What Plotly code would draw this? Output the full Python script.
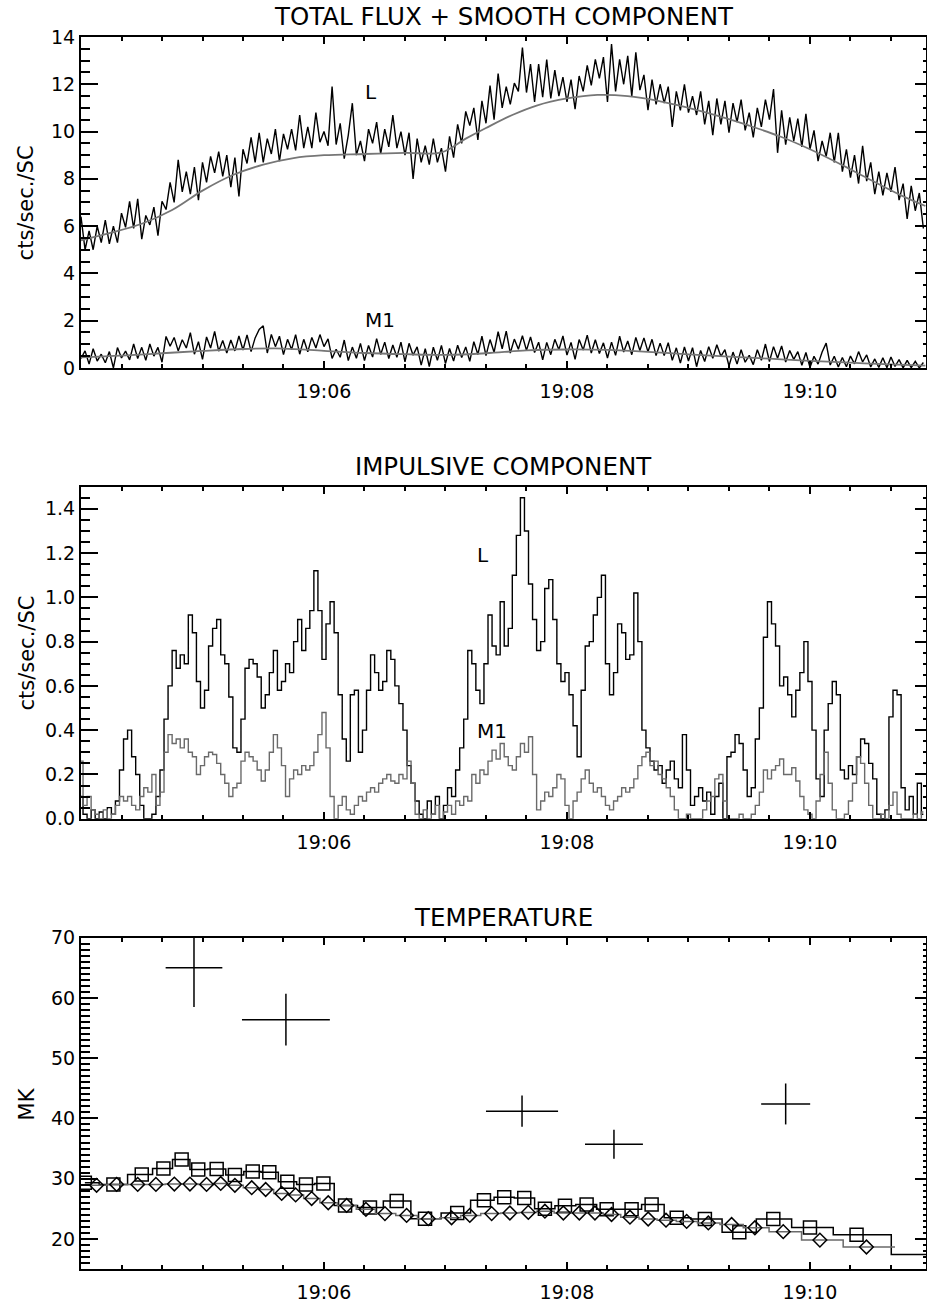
import plotly.graph_objects as go

# ---------------- data (time in seconds after 19:04:00) ----------------
T_START = 0.0
T_STEP = 2.0
X_RANGE = [0.0, 417.3]
tick_vals = [120, 240, 360]
tick_text = ["19:06", "19:08", "19:10"]

# total flux, L channel (2 s bins)
flux_L = [6.4, 5.0, 5.8, 5.0, 6.0, 5.3, 6.25, 5.25, 6.0, 5.3,
          6.55, 5.95, 7.05, 5.9, 7.15, 5.45, 6.45, 6.05, 6.8, 5.6,
          7.05, 6.7, 7.85, 7.0, 8.8, 7.45, 8.3, 7.35, 8.5, 7.1,
          8.7, 7.85, 8.95, 8.25, 9.15, 8.1, 9.0, 7.65, 8.9, 7.25,
          9.25, 8.65, 9.75, 8.7, 9.95, 8.7, 9.7, 9.05, 10.1, 8.75,
          9.9, 9.25, 10.1, 9.2, 10.7, 9.3, 10.2, 9.3, 10.8, 9.55,
          10.0, 9.4, 11.9, 9.45, 10.35, 8.85, 9.85, 11.2, 9.0, 9.6,
          8.75, 10.1, 9.5, 10.4, 9.05, 10.1, 9.35, 10.7, 9.3, 10.0,
          9.0, 9.95, 8.0, 9.7, 8.7, 9.4, 8.6, 9.7, 8.7, 9.3,
          8.3, 9.8, 8.9, 10.3, 9.5, 10.85, 10.25, 11.0, 9.65, 11.3,
          10.35, 11.95, 10.5, 12.45, 11.0, 11.9, 11.15, 12.05, 11.7, 13.55,
          11.65, 12.85, 11.25, 12.85, 11.45, 13.05, 11.4, 12.6, 11.5, 12.3,
          11.25, 12.2, 10.95, 12.35, 11.7, 12.8, 11.95, 13.05, 12.25, 13.15,
          11.25, 13.7, 11.7, 13.05, 12.0, 13.2, 11.5, 13.35, 11.75, 12.4,
          10.9, 12.2, 11.15, 12.0, 11.2, 11.9, 10.2, 11.7, 10.9, 12.0,
          10.8, 11.5, 10.7, 11.7, 10.3, 11.3, 9.85, 11.4, 10.3, 11.3,
          9.95, 11.2, 10.4, 11.35, 10.05, 10.8, 9.75, 11.0, 10.2, 11.35,
          10.5, 11.8, 9.1, 10.9, 9.45, 10.6, 9.6, 10.55, 9.35, 10.75,
          9.25, 10.05, 8.75, 9.6, 8.95, 9.95, 8.7, 9.95, 8.3, 9.25,
          8.05, 9.0, 7.8, 9.4, 7.9, 8.7, 7.35, 8.3, 7.3, 8.25,
          7.45, 8.5, 7.1, 7.8, 6.3, 7.7, 6.65, 7.4, 5.9]

# total flux, M1 channel (2 s bins)
flux_M1 = [0.40, 0.72, 0.16, 0.81, 0.29, 0.58, 0.22, 0.69, 0.00, 0.86,
           0.42, 0.71, 0.34, 1.01, 0.40, 0.87, 0.32, 1.01, 0.50, 0.87,
           0.24, 1.33, 0.92, 1.29, 0.72, 1.19, 0.84, 1.49, 0.58, 1.11,
           0.36, 1.31, 0.84, 1.54, 0.71, 1.16, 0.63, 1.18, 0.72, 1.35,
           0.76, 1.40, 0.69, 1.27, 1.63, 1.78, 0.63, 1.42, 0.90, 1.34,
           0.56, 1.21, 0.78, 1.41, 0.58, 1.21, 0.68, 1.29, 0.84, 1.41,
           0.90, 1.23, 0.40, 0.79, 0.45, 1.18, 0.31, 0.88, 0.41, 1.04,
           0.31, 0.95, 0.46, 1.24, 0.57, 1.09, 0.40, 0.97, 0.45, 1.09,
           0.26, 1.04, 0.54, 0.89, 0.12, 0.81, 0.06, 0.88, 0.32, 0.95,
           0.18, 0.82, 0.29, 0.96, 0.44, 0.89, 0.28, 1.11, 0.57, 1.34,
           0.52, 1.20, 0.66, 1.53, 0.81, 1.56, 0.63, 1.22, 0.79, 1.36,
           0.74, 1.31, 0.65, 1.09, 0.34, 1.08, 0.56, 1.21, 0.77, 1.35,
           0.54, 1.08, 0.36, 1.20, 0.76, 1.39, 0.63, 1.19, 0.61, 1.06,
           0.42, 1.09, 0.53, 1.34, 0.67, 1.14, 0.56, 1.29, 0.74, 1.27,
           0.68, 1.21, 0.52, 1.05, 0.52, 1.07, 0.32, 0.85, 0.20, 0.89,
           0.29, 0.86, 0.05, 0.74, 0.27, 0.90, 0.41, 0.98, 0.49, 0.77,
           0.08, 0.67, 0.16, 0.77, 0.24, 0.53, 0.14, 0.77, 0.32, 1.01,
           0.27, 0.90, 0.41, 0.93, 0.25, 0.74, 0.36, 0.69, 0.11, 0.65,
           0.02, 0.49, 0.16, 0.67, 1.05, 0.12, 0.49, 0.04, 0.44, 0.05,
           0.50, 0.17, 0.69, 0.25, 0.55, 0.04, 0.38, 0.02, 0.43, 0.01,
           0.46, 0.06, 0.35, 0.00, 0.32, 0.01, 0.28, 0.00, 0.23]

# smooth components
smooth_L_t = [0, 15, 30, 45, 60, 75, 90, 105, 120, 140, 160, 178, 190, 200, 213,
              225, 240, 255, 270, 285, 300, 315, 330, 345, 360, 375, 390, 405, 417]
smooth_L = [5.40, 5.72, 6.10, 6.68, 7.50, 8.16, 8.60, 8.88, 9.00, 9.05, 9.10, 9.12, 9.70, 10.15, 10.70,
            11.10, 11.40, 11.55, 11.50, 11.30, 11.00, 10.65, 10.25, 9.80, 9.25, 8.62, 7.95, 7.30, 6.85]
smooth_M1_t = [0, 20, 40, 60, 80, 100, 120, 140, 160, 180, 200, 220, 240, 260, 280,
               300, 320, 340, 360, 380, 400, 417]
smooth_M1 = [0.45, 0.52, 0.62, 0.72, 0.80, 0.82, 0.72, 0.63, 0.58, 0.55, 0.62, 0.74, 0.78, 0.76, 0.68,
             0.57, 0.48, 0.39, 0.30, 0.22, 0.15, 0.10]

# impulsive components (2 s bins)
imp_L = [0.10, 0.02, 0.00, 0.04, 0.00, 0.03, 0.00, 0.05, 0.02, 0.08,
         0.22, 0.36, 0.40, 0.28, 0.20, 0.06, 0.00, 0.00, 0.02, 0.10,
         0.22, 0.45, 0.60, 0.76, 0.68, 0.74, 0.70, 0.92, 0.84, 0.62,
         0.50, 0.58, 0.78, 0.86, 0.90, 0.74, 0.70, 0.55, 0.32, 0.30,
         0.45, 0.68, 0.72, 0.70, 0.64, 0.50, 0.56, 0.66, 0.76, 0.58,
         0.62, 0.70, 0.66, 0.80, 0.90, 0.76, 0.86, 0.94, 1.12, 0.94,
         0.72, 0.88, 0.98, 0.84, 0.56, 0.36, 0.26, 0.56, 0.58, 0.30,
         0.40, 0.58, 0.74, 0.66, 0.58, 0.62, 0.76, 0.72, 0.60, 0.52,
         0.40, 0.24, 0.16, 0.08, 0.02, 0.00, 0.08, 0.02, 0.10, 0.00,
         0.06, 0.14, 0.10, 0.22, 0.32, 0.45, 0.76, 0.70, 0.58, 0.52,
         0.70, 0.92, 0.78, 0.74, 0.98, 0.78, 0.86, 1.10, 1.28, 1.45,
         1.30, 1.06, 0.90, 0.76, 0.80, 1.04, 1.08, 0.90, 0.70, 0.62,
         0.66, 0.56, 0.42, 0.28, 0.58, 0.78, 0.80, 0.92, 1.00, 1.10,
         0.70, 0.56, 0.66, 0.88, 0.84, 0.72, 0.74, 1.02, 0.80, 0.40,
         0.32, 0.26, 0.22, 0.24, 0.16, 0.22, 0.26, 0.18, 0.14, 0.38,
         0.22, 0.06, 0.10, 0.14, 0.08, 0.12, 0.02, 0.10, 0.16, 0.00,
         0.28, 0.30, 0.38, 0.34, 0.22, 0.10, 0.14, 0.36, 0.50, 0.82,
         0.98, 0.88, 0.78, 0.60, 0.64, 0.56, 0.46, 0.58, 0.66, 0.80,
         0.62, 0.40, 0.18, 0.10, 0.40, 0.52, 0.62, 0.56, 0.22, 0.18,
         0.24, 0.20, 0.28, 0.36, 0.34, 0.25, 0.18, 0.02, 0.00, 0.04,
         0.46, 0.58, 0.56, 0.14, 0.04, 0.10, 0.02, 0.16, 0.02]
imp_M1 = [0.26, 0.06, 0.10, 0.04, 0.02, 0.00, 0.04, 0.00, 0.02, 0.06,
          0.10, 0.08, 0.10, 0.06, 0.04, 0.10, 0.14, 0.12, 0.20, 0.06,
          0.12, 0.30, 0.38, 0.34, 0.36, 0.32, 0.36, 0.30, 0.28, 0.20,
          0.24, 0.28, 0.30, 0.29, 0.25, 0.20, 0.16, 0.10, 0.14, 0.16,
          0.26, 0.30, 0.28, 0.26, 0.22, 0.17, 0.22, 0.30, 0.38, 0.32,
          0.24, 0.10, 0.18, 0.22, 0.20, 0.24, 0.22, 0.24, 0.30, 0.38,
          0.48, 0.32, 0.10, 0.00, 0.06, 0.10, 0.04, 0.02, 0.06, 0.10,
          0.08, 0.12, 0.14, 0.12, 0.16, 0.18, 0.20, 0.17, 0.16, 0.20,
          0.18, 0.26, 0.16, 0.02, 0.00, 0.04, 0.00, 0.02, 0.06, 0.00,
          0.03, 0.06, 0.02, 0.08, 0.06, 0.10, 0.08, 0.20, 0.16, 0.22,
          0.20, 0.26, 0.31, 0.27, 0.34, 0.28, 0.24, 0.22, 0.28, 0.34,
          0.30, 0.37, 0.20, 0.04, 0.08, 0.12, 0.10, 0.14, 0.20, 0.18,
          0.06, 0.00, 0.08, 0.12, 0.18, 0.22, 0.16, 0.12, 0.14, 0.10,
          0.06, 0.04, 0.08, 0.10, 0.14, 0.12, 0.14, 0.18, 0.24, 0.28,
          0.30, 0.24, 0.26, 0.20, 0.18, 0.14, 0.10, 0.04, 0.00, 0.00,
          0.02, 0.00, 0.00, 0.00, 0.04, 0.08, 0.10, 0.18, 0.20, 0.08,
          0.00, 0.00, 0.00, 0.02, 0.00, 0.00, 0.02, 0.06, 0.12, 0.22,
          0.18, 0.22, 0.24, 0.27, 0.20, 0.20, 0.23, 0.17, 0.10, 0.04,
          0.02, 0.00, 0.08, 0.20, 0.30, 0.16, 0.04, 0.00, 0.00, 0.02,
          0.08, 0.16, 0.28, 0.25, 0.16, 0.06, 0.00, 0.00, 0.02, 0.00,
          0.06, 0.12, 0.02, 0.00, 0.00, 0.00, 0.02, 0.00, 0.03]

# temperature: squares (black histogram) and diamonds (grey histogram)
sq_t = [1.9, 16, 30, 40.7, 49.7, 57.9, 67, 76, 84.8, 93, 101.9, 111.1, 119.7, 130.4, 142.7,
        155.9, 169.9, 185.8, 199, 209, 218.9, 229.1, 239, 249.7, 259.6, 271.9, 281.8, 294.2,
        308.1, 325.1, 341.9, 360, 383]
sq_T = [29.3, 29.05, 30.7, 31.7, 33.2, 31.5, 31.6, 30.6, 31.2, 31.05, 29.5, 29.05, 29.2, 25.55, 25.2,
        26.3, 23.35, 24.3, 26.4, 26.9, 26.8, 25.0, 25.5, 25.7, 24.9, 24.9, 25.7, 23.5,
        23.3, 21.1, 23.3, 21.9, 20.7]
sq_tail_t = 417.3      # last bin of the black histogram (no symbol)
sq_tail_T = 17.4

dia_t = [7.7, 17.6, 28, 37, 46.1, 53.8, 62, 69, 76, 84.3, 91.2, 99.1, 106, 113.9, 122.1, 131.2,
         140.7, 150.1, 160.8, 171.5, 183, 192, 202.8, 211.8, 220.9, 229.1, 238.2, 246.1, 253.8,
         262, 271.1, 280.1, 288.9, 299.1, 309.8, 321.3, 332.8, 346.8, 364.9, 387.9]
dia_T = [28.9, 29.05, 29.05, 29.05, 29.1, 29.1, 29.05, 29.2, 28.9, 28.5, 28.2, 27.55, 27.3, 26.7, 26.0, 25.55,
         24.9, 24.2, 23.9, 23.35, 23.5, 23.9, 24.2, 24.3, 24.4, 24.6, 24.3, 24.3, 24.3,
         24.05, 23.6, 23.3, 23.1, 22.9, 22.65, 22.4, 21.85, 21.2, 19.8, 18.65]
dia_head_t = 0.0       # grey histogram starts at the left edge
dia_tail_t = 402.0     # and ends after the last diamond

# high-temperature points with error bars
cross_t = [55.8, 101.2, 217.8, 263.2, 348.0]
cross_dt = [14.0, 21.7, 17.8, 14.3, 12.1]
cross_T = [65.0, 56.4, 41.2, 35.7, 42.4]
cross_dT = [6.5, 4.3, 2.6, 2.4, 3.4]

# ---------------- figure ----------------
t_bins = [T_START + T_STEP * i for i in range(len(flux_L))]

BLACK = "#000000"
GREY_SMOOTH = "#767676"
GREY_M1 = "#6a6a6a"
FONT = "DejaVu Sans"

fig = go.Figure()

# top panel
fig.add_trace(go.Scatter(x=t_bins, y=flux_L, mode="lines", line=dict(color=BLACK, width=1.4, shape="linear"),
                         xaxis="x", yaxis="y", hoverinfo="skip"))
fig.add_trace(go.Scatter(x=t_bins, y=flux_M1, mode="lines", line=dict(color=BLACK, width=1.4, shape="linear"),
                         xaxis="x", yaxis="y", hoverinfo="skip"))
fig.add_trace(go.Scatter(x=smooth_L_t, y=smooth_L, mode="lines", line=dict(color=GREY_SMOOTH, width=1.8, shape="spline"),
                         xaxis="x", yaxis="y4", hoverinfo="skip"))
fig.add_trace(go.Scatter(x=smooth_M1_t, y=smooth_M1, mode="lines", line=dict(color=GREY_SMOOTH, width=1.8, shape="spline"),
                         xaxis="x", yaxis="y4", hoverinfo="skip"))

# middle panel
fig.add_trace(go.Scatter(x=t_bins, y=imp_L, mode="lines", line=dict(color=BLACK, width=1.4, shape="hvh"),
                         xaxis="x2", yaxis="y2", hoverinfo="skip"))
fig.add_trace(go.Scatter(x=t_bins, y=imp_M1, mode="lines", line=dict(color=GREY_M1, width=1.4, shape="hvh"),
                         xaxis="x2", yaxis="y5", hoverinfo="skip"))

# bottom panel
fig.add_trace(go.Scatter(x=cross_t, y=cross_T, mode="markers", marker=dict(size=1, color="rgba(0,0,0,0)"),
                         error_x=dict(type="data", array=cross_dt, color=BLACK, thickness=1.5, width=0),
                         error_y=dict(type="data", array=cross_dT, color=BLACK, thickness=1.5, width=0),
                         xaxis="x3", yaxis="y3", hoverinfo="skip"))
fig.add_trace(go.Scatter(x=[dia_head_t] + dia_t + [dia_tail_t], y=[dia_T[0]] + dia_T + [dia_T[-1]],
                         mode="lines", line=dict(color=GREY_M1, width=1.5, shape="hvh"),
                         xaxis="x3", yaxis="y6", hoverinfo="skip"))
fig.add_trace(go.Scatter(x=sq_t + [sq_tail_t], y=sq_T + [sq_tail_T], mode="lines",
                         line=dict(color=BLACK, width=1.5, shape="hvh"),
                         xaxis="x3", yaxis="y3", hoverinfo="skip"))
fig.add_trace(go.Scatter(x=sq_t, y=sq_T, mode="markers",
                         marker=dict(symbol="square-open", size=13, color=BLACK, line=dict(width=1.5, color=BLACK)),
                         xaxis="x3", yaxis="y3", hoverinfo="skip"))
fig.add_trace(go.Scatter(x=dia_t, y=dia_T, mode="markers",
                         marker=dict(symbol="diamond-open", size=10.5, color=BLACK, line=dict(width=1.5, color=BLACK)),
                         xaxis="x3", yaxis="y6", hoverinfo="skip"))

tickfont = dict(family=FONT, size=19, color=BLACK)


def xaxis_cfg(anchor):
    return dict(anchor=anchor, range=X_RANGE, tickmode="array", tickvals=tick_vals, ticktext=tick_text,
                ticks="inside", ticklen=7, tickwidth=1.5, tickcolor=BLACK,
                minor=dict(tickmode="linear", tick0=0, dtick=20, ticks="inside", ticklen=4,
                           tickwidth=1.5, tickcolor=BLACK),
                showline=True, linewidth=2, linecolor=BLACK, mirror="ticks", automargin=False,
                showgrid=False, zeroline=False, tickfont=tickfont, ticklabelstandoff=5)


def yleft_cfg(domain, anchor, rng, dtick, mdtick, fmt=None):
    d = dict(domain=domain, anchor=anchor, range=rng, tickmode="linear", tick0=0, dtick=dtick,
             ticks="inside", ticklen=17, tickwidth=1.5, tickcolor=BLACK,
             minor=dict(tickmode="linear", tick0=0, dtick=mdtick, ticks="inside", ticklen=9,
                        tickwidth=1.5, tickcolor=BLACK),
             showline=True, linewidth=2, linecolor=BLACK, mirror=False, automargin=False,
             showgrid=False, zeroline=False, tickfont=tickfont, ticklabelstandoff=0)
    if fmt:
        d["tickformat"] = fmt
    return d


def yright_cfg(over, anchor, rng, dtick, mdtick):
    return dict(overlaying=over, anchor=anchor, side="right", range=rng, tickmode="linear", tick0=0, dtick=dtick,
                ticks="inside", ticklen=11, tickwidth=1.5, tickcolor=BLACK,
                minor=dict(tickmode="linear", tick0=0, dtick=mdtick, ticks="inside", ticklen=3.5,
                           tickwidth=1.5, tickcolor=BLACK),
                showline=True, linewidth=2, linecolor=BLACK, showticklabels=False, automargin=False,
                showgrid=False, zeroline=False)


annotations = []
titles = [("TOTAL FLUX + SMOOTH COMPONENT", 1.0166), ("IMPULSIVE COMPONENT", 0.6510), ("TEMPERATURE", 0.2853)]
for txt, yy in titles:
    annotations.append(dict(text=txt, xref="paper", yref="paper", x=0.5, y=yy, xanchor="center", yanchor="middle",
                            showarrow=False, font=dict(family=FONT, size=24.5, color=BLACK)))
ytitles = [("cts/sec./SC", 0.8657), ("cts/sec./SC", 0.5003), ("MK", 0.1343)]
for txt, yy in ytitles:
    annotations.append(dict(text=txt, xref="paper", yref="paper", x=-0.064, y=yy, xanchor="center", yanchor="middle",
                            textangle=-90, showarrow=False, font=dict(family=FONT, size=21, color=BLACK)))
labels = [("L", "x", "y", 139.3, 11.68), ("M1", "x", "y", 139.3, 2.03),
          ("L", "x2", "y2", 194.6, 1.19), ("M1", "x2", "y2", 194.6, 0.396)]
for txt, xr, yr, xx, yy in labels:
    annotations.append(dict(text=txt, xref=xr, yref=yr, x=xx, y=yy, xanchor="left", yanchor="middle",
                            showarrow=False, font=dict(family=FONT, size=20, color=BLACK)))

fig.update_layout(
    width=927, height=1306,
    margin=dict(l=81, r=1, t=37, b=37, pad=0, autoexpand=False),
    paper_bgcolor="white", plot_bgcolor="white",
    showlegend=False,
    xaxis=xaxis_cfg("y"), xaxis2=xaxis_cfg("y2"), xaxis3=xaxis_cfg("y3"),
    yaxis=yleft_cfg([0.7314, 1.0], "x", [0, 14], 2, 0.5),
    yaxis2=yleft_cfg([0.3655, 0.6350], "x2", [0, 1.5], 0.2, 0.05, ".1f"),
    yaxis3=yleft_cfg([0.0, 0.2689], "x3", [15, 70], 10, 1),
    yaxis4=yright_cfg("y", "x", [0, 14], 2, 0.5),
    yaxis5=yright_cfg("y2", "x2", [0, 1.5], 0.2, 0.05),
    yaxis6=yright_cfg("y3", "x3", [15, 70], 10, 1),
    annotations=annotations,
    font=dict(family=FONT, color=BLACK),
)

fig.write_html("out.html", config={"displayModeBar": False},
               post_script="document.body.style.margin='0';document.body.style.padding='0';")
